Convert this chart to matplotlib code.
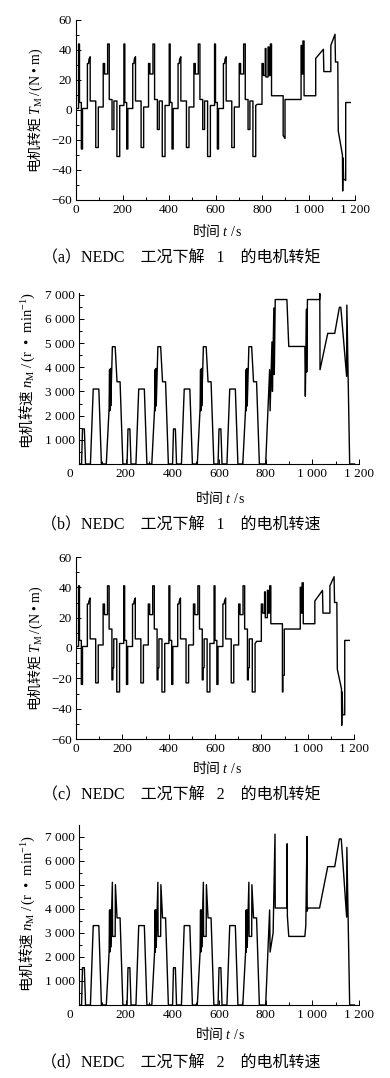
import matplotlib
matplotlib.use('Agg')
import matplotlib.pyplot as plt
from matplotlib.ticker import MultipleLocator

plt.rcParams['font.family'] = ['Liberation Serif', 'Noto Sans CJK SC', 'DejaVu Sans']
plt.rcParams['mathtext.fontset'] = 'custom'
plt.rcParams['mathtext.rm'] = 'Liberation Serif'
plt.rcParams['mathtext.it'] = 'Liberation Serif:italic'
plt.rcParams['axes.unicode_minus'] = True

# ---------------------------------------------------------------- data
# time grid of the two torque plots (a) and (c), s
t_torque = sum([
    [0, 11, 11, 15, 15, 23, 23, 28, 28, 49, 49, 54, 56, 61, 61, 85, 85, 96, 96,
     117, 117, 123, 123, 136, 136, 143, 143, 155, 155, 159, 159, 163, 163, 176, 176, 188, 188],
    [195, 206, 206, 210, 210, 218, 218, 223, 223, 244, 244, 249, 251, 256, 256, 280, 280, 291, 291,
     312, 312, 318, 318, 331, 331, 338, 338, 350, 350, 354, 354, 358, 358, 371, 371, 383, 383],
    [390, 401, 401, 405, 405, 413, 413, 418, 418, 439, 439, 444, 446, 451, 451, 475, 475, 486, 486,
     507, 507, 513, 513, 526, 526, 533, 533, 545, 545, 549, 549, 553, 553, 566, 566, 578, 578],
    [585, 596, 596, 600, 600, 608, 608, 613, 613, 634, 634, 639, 641, 646, 646, 670, 670, 681, 681,
     702, 702, 708, 708, 721, 721, 728, 728, 740, 740, 744, 744, 748, 748, 761, 761, 773, 773],
    [780, 800, 800, 806, 806, 814, 814, 817, 817, 826, 826, 830, 830, 836, 836, 841, 841,
     891, 891, 893, 893, 899, 899, 968, 968, 973, 973, 976, 976, 981, 981, 1031, 1031, 1064, 1066,
     1096, 1096, 1114, 1116, 1126, 1128, 1146, 1147, 1149, 1151, 1160, 1160, 1180],
], [])

# (a) motor torque, solution 1, N*m
torque_1 = sum([
    [1, 1, 44, 44, 5, 5, -26, -26, 1, 1, 31, 31, 34, 35.5, 6, 6, -25, -25, 2, 2,
     31, 31, 24, 24, 44, 44, 7, 7, -13, -13, -13, -13, 6, 6, -31, -31, 3],
    [3, 3, 44, 44, 5, 5, -26, -26, 1, 1, 31, 31, 34, 35.5, 6, 6, -25, -25, 2, 2,
     31, 31, 24, 24, 44, 44, 7, 7, -13, -13, -13, -13, 6, 6, -31, -31, 3],
    [3, 3, 44, 44, 5, 5, -26, -26, 1, 1, 31, 31, 34, 35.5, 6, 6, -25, -25, 2, 2,
     31, 31, 24, 24, 44, 44, 7, 7, -13, -13, -13, -13, 6, 6, -31, -31, 3],
    [3, 3, 44, 44, 5, 5, -26, -26, 1, 1, 31, 31, 34, 35.5, 6, 6, -25, -25, 2, 2,
     31, 31, 24, 24, 44, 44, 7, 7, -13, -13, -13, -13, 6, 6, -31, -31, 3],
    [3.8, 3.8, 31, 31, 23, 23, 41, 41, 22, 22, 42, 42, 23, 23, 44, 44, 9.5,
     9.5, -17, -17.5, -17.5, -19, 7, 7, 43, 43, 24, 24, 46, 46, 9.5, 9.5, 34.4, 40.5, 25.6,
     25.6, 43, 50.5, 32, 32, -14, -30, -54, -32, -46, -47, 5, 5],
], [])

# (c) motor torque, solution 2, N*m
torque_2 = sum([
    [1, 1, 41, 41, 5, 5, -24, -24, 1, 1, 29, 29, 31, 33, 6, 6, -23, -23, 2, 2,
     29, 29, 22, 22, 41, 41, 12.5, 12.5, -21, -21, -13, -13, 6, 6, -29, -29, 3],
    [3, 3, 41, 41, 5, 5, -24, -24, 1, 1, 29, 29, 31, 33, 6, 6, -23, -23, 2, 2,
     29, 29, 22, 22, 41, 41, 12.5, 12.5, -21, -21, -13, -13, 6, 6, -29, -29, 3],
    [3, 3, 41, 41, 5, 5, -24, -24, 1, 1, 29, 29, 31, 33, 6, 6, -23, -23, 2, 2,
     29, 29, 22, 22, 41, 41, 12.5, 12.5, -21, -21, -13, -13, 6, 6, -29, -29, 3],
    [3, 3, 41, 41, 5, 5, -24, -24, 1, 1, 29, 29, 31, 33, 6, 6, -23, -23, 2, 2,
     29, 29, 22, 22, 41, 41, 12.5, 12.5, -21, -21, -13, -13, 6, 6, -29, -29, 3],
    [4.4, 4.4, 29, 29, 23, 23, 37, 37, 20, 20, 38, 38, 23, 23, 41, 41, 16,
     16, -29, -29, -18, -18, 12.5, 12.5, 40, 40, 23, 23, 43, 43, 16, 16, 31, 38, 23,
     23, 41, 47, 30, 30, -14, -27, -51, -29, -44, -44, 5, 5],
], [])

# (b) motor speed, solution 1, r/min
t_speed_1 = sum([
    [0, 11, 15, 23, 28, 49, 61, 85, 96, 117, 129, 131, 132, 135, 136, 143, 155, 163, 176, 188],
    [195, 206, 210, 218, 223, 244, 256, 280, 291, 312, 324, 326, 327, 330, 331, 338, 350, 358, 371, 383],
    [390, 401, 405, 413, 418, 439, 451, 475, 486, 507, 519, 521, 522, 525, 526, 533, 545, 553, 566, 578],
    [585, 596, 600, 608, 613, 634, 646, 670, 681, 702, 714, 716, 717, 720, 721, 728, 740, 748, 761, 773],
    [780, 800, 817, 819, 827, 829, 835, 837, 841, 891, 899, 968, 970, 975, 976, 979,
     1031, 1032, 1033, 1066, 1096, 1116, 1122, 1147, 1148, 1160, 1180],
], [])
speed_1 = sum([
    [0, 0, 1450, 1450, 0, 0, 3100, 3100, 0, 0, 2300, 3900, 2200, 3950, 2400, 4850, 4850, 3400, 3400, 0],
    [0, 0, 1450, 1450, 0, 0, 3100, 3100, 0, 0, 2300, 3900, 2200, 3950, 2400, 4850, 4850, 3400, 3400, 0],
    [0, 0, 1450, 1450, 0, 0, 3100, 3100, 0, 0, 2300, 3900, 2200, 3950, 2400, 4850, 4850, 3400, 3400, 0],
    [0, 0, 1450, 1450, 0, 0, 3100, 3100, 0, 0, 2300, 3900, 2200, 3950, 2400, 4850, 4850, 3400, 3400, 0],
    [0, 0, 3900, 2200, 5050, 3000, 6450, 3700, 6800, 6800, 4860, 4860, 2800, 6400, 3800, 6800,
     6800, 7050, 3900, 5400, 5400, 6480, 6480, 3620, 6570, 0, 0],
], [])

# (d) motor speed, solution 2, r/min
t_speed_2 = sum([
    [0, 11, 15, 23, 28, 49, 61, 85, 96, 117, 129, 131, 132, 135, 136, 143, 144, 155, 156, 163, 176, 188],
    [195, 206, 210, 218, 223, 244, 256, 280, 291, 312, 324, 326, 327, 330, 331, 338, 339, 350, 351, 358, 371, 383],
    [390, 401, 405, 413, 418, 439, 451, 475, 486, 507, 519, 521, 522, 525, 526, 533, 534, 545, 546, 553, 566, 578],
    [585, 596, 600, 608, 613, 634, 646, 670, 681, 702, 714, 716, 717, 720, 721, 728, 729, 740, 741, 748, 761, 773],
    [780, 800, 817, 819, 832, 840, 841, 891, 892, 893, 899, 968, 972, 977, 978, 981,
     1031, 1066, 1096, 1116, 1124, 1147, 1148, 1160, 1180],
], [])
speed_2 = sum([
    [0, 0, 1550, 1550, 0, 0, 3300, 3300, 0, 0, 2200, 3950, 2200, 3950, 2400, 5100, 2850, 2850, 5000, 3620, 3620, 0],
    [0, 0, 1550, 1550, 0, 0, 3300, 3300, 0, 0, 2200, 3950, 2200, 3950, 2400, 5100, 2850, 2850, 5000, 3620, 3620, 0],
    [0, 0, 1550, 1550, 0, 0, 3300, 3300, 0, 0, 2200, 3950, 2200, 3950, 2400, 5100, 2850, 2850, 5000, 3620, 3620, 0],
    [0, 0, 1550, 1550, 0, 0, 3300, 3300, 0, 0, 2200, 3950, 2200, 3950, 2400, 5100, 2850, 2850, 5000, 3620, 3620, 0],
    [0, 0, 3950, 2200, 3000, 7100, 4030, 4030, 6700, 3700, 2850, 2850, 3300, 7000, 3900, 4030,
     4030, 5750, 5750, 6900, 6900, 3650, 6550, 0, 0],
], [])

x_ticks = [0, 200, 400, 600, 800, 1000, 1200]
x_ticklabels = ['0', '200', '400', '600', '800', '1 000', '1 200']
torque_ticks = [-60, -40, -20, 0, 20, 40, 60]
speed_ticks = [1000, 2000, 3000, 4000, 5000, 6000, 7000]
speed_ticklabels = ['1 000', '2 000', '3 000', '4 000', '5 000', '6 000', '7 000']

captions = ['（a）NEDC    工况下解   1    的电机转矩',
            '（b）NEDC    工况下解   1    的电机转速',
            '（c）NEDC    工况下解   2    的电机转矩',
            '（d）NEDC    工况下解   2    的电机转速']
torque_label = '电机转矩 $T_{\\mathrm{M}}\\,/\\,(\\mathrm{N\\ •\\ m})$'
speed_label = '电机转速 $n_{\\mathrm{M}}\\ /\\,(\\mathrm{r\\ \\ •\\ \\ min}^{-1})$'
time_label = '时间 $t\\ /\\,\\mathrm{s}$'

# ---------------------------------------------------------------- figure
W, H = 390.0, 1078.0
fig = plt.figure(figsize=(W / 100, H / 100), dpi=100)


def add_axes(left, top, right, bottom):
    return fig.add_axes([left / W, 1 - bottom / H, (right - left) / W, (bottom - top) / H])


def style(ax, speed):
    ax.set_xlim(0, 1200)
    for s in ('top', 'right'):
        ax.spines[s].set_visible(False)
    for s in ('left', 'bottom'):
        ax.spines[s].set_linewidth(0.8)
    ax.set_xticks(x_ticks)
    if speed:
        ax.set_xticklabels([''] + x_ticklabels[1:])
        # the "0" sits left of the corner in the original
        ax.annotate('0', xy=(0, 0), xycoords='axes fraction', xytext=(-6.5, -3),
                    textcoords='offset points', ha='center', va='top', fontsize=9.5)
        ax.set_yticks(speed_ticks)
        ax.set_yticklabels(speed_ticklabels)
        ax.yaxis.set_minor_locator(MultipleLocator(500))
    else:
        ax.set_xticklabels(x_ticklabels)
        ax.set_ylim(-60, 60)
        ax.set_yticks(torque_ticks)
        ax.yaxis.set_minor_locator(MultipleLocator(10))
    ax.xaxis.set_minor_locator(MultipleLocator(100))
    ax.tick_params(which='both', direction='in', labelsize=9.5, width=0.7, pad=3,
                   top=False, right=False)
    ax.tick_params(which='major', length=3.5)
    ax.tick_params(which='minor', length=2)


def texts(ylab, ylab_size, ylab_x, ylab_y, xlab_x, xlab_y, cap, cap_y):
    fig.text(ylab_x / W, 1 - ylab_y / H, ylab, rotation=90, ha='center', va='center',
             fontsize=ylab_size, family='Noto Sans CJK SC')
    fig.text(xlab_x / W, 1 - xlab_y / H, time_label, ha='center', va='center',
             fontsize=10, family='Noto Sans CJK SC')
    fig.text(181 / W, 1 - cap_y / H, cap, ha='center', va='center', fontsize=11.5)


# (a)
ax = add_axes(76, 20, 355, 200)
ax.plot(t_torque, torque_1, color='black', lw=1.0)
style(ax, False)
texts(torque_label, 10, 36, 110, 217, 230, captions[0], 258)

# (b)
ax = add_axes(79, 293, 359, 464)
ax.plot(t_speed_1, speed_1, color='black', lw=1.0)
style(ax, True)
ax.set_ylim(0, 7070)
texts(speed_label, 10.5, 27, 370, 220, 497, captions[1], 525)

# (c)
ax = add_axes(76, 557, 354, 739)
ax.plot(t_torque, torque_2, color='black', lw=1.0)
style(ax, False)
texts(torque_label, 10, 36, 648, 217, 768, captions[2], 795)

# (d)
ax = add_axes(79, 825, 359, 1005)
ax.plot(t_speed_2, speed_2, color='black', lw=1.0)
style(ax, True)
ax.set_ylim(0, 7480)
texts(speed_label, 10.5, 27, 913, 220, 1033, captions[3], 1063)

fig.savefig('out.png', dpi=100, facecolor='white')
